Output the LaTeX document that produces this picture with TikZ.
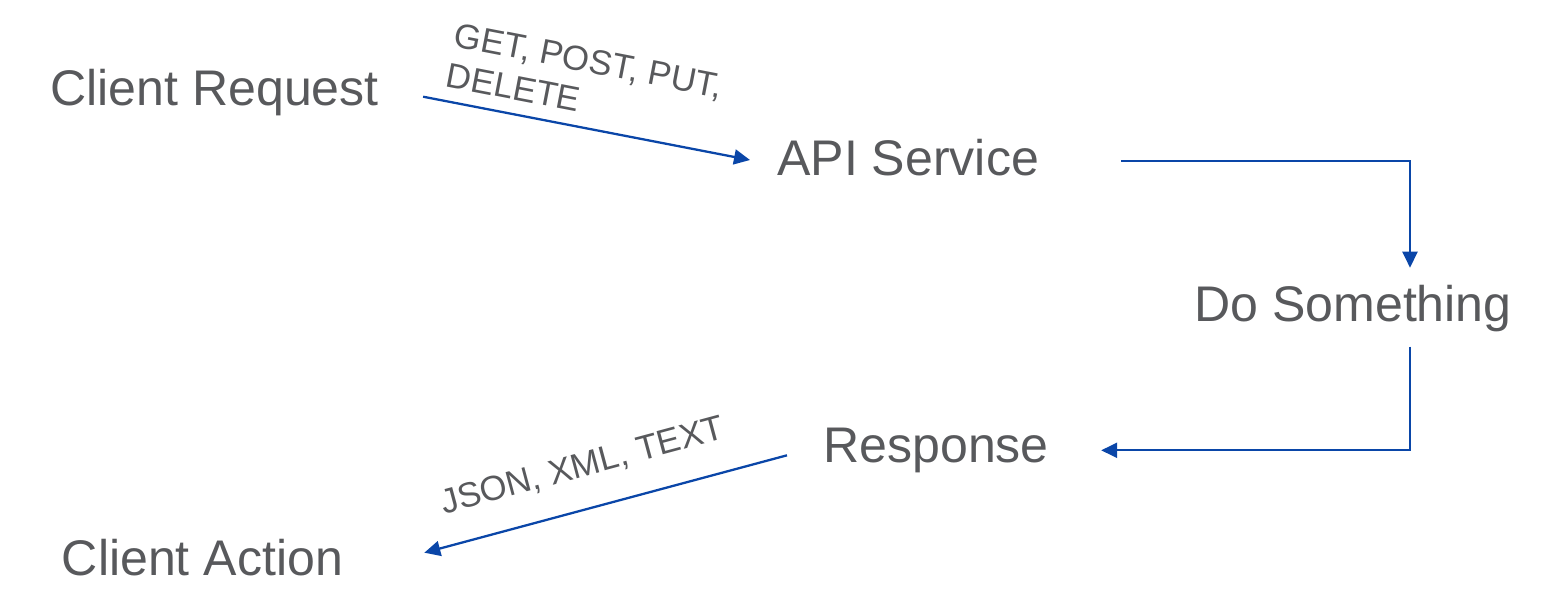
\documentclass[tikz,border=0pt]{standalone}
\usepackage{fontspec}
\setmainfont{Liberation Sans}
\usetikzlibrary{arrows.meta}

\definecolor{textgray}{RGB}{88,89,92}
\definecolor{flowblue}{RGB}{10,70,168}

\tikzset{
  stage/.style={inner sep=0pt, anchor=base west, text=textgray,
    font=\fontsize{28.5pt}{34pt}\selectfont},
  payload/.style={inner sep=0pt, sloped, anchor=south west, align=left, text=textgray,
    font=\fontsize{19.8pt}{23.3pt}\selectfont},
  flow/.style={color=flowblue, line width=1.3pt},
  elbow/.style={to path={-| (\tikztotarget)}}
}

\begin{document}
\begin{tikzpicture}[x=0.02cm,y=-0.02cm,>={Triangle[length=0.32cm,width=0.3cm]}]
  \useasboundingbox (0,0) rectangle (1546,610);

  \node[stage] (request)  at (50,105.7)   {Client Request};
  \node[stage] (service)  at (777,175)    {API Service};
  \node[stage] (work)     at (1194,321.7) {Do Something};
  \node[stage] (response) at (823,462.3)  {Response};
  \node[stage] (action)   at (61.5,575.7) {Client Action};

  \path[->, flow]
  ([shift={(44,-9)}]request.base east) edge
    node[payload, pos=0.055, yshift=0.26cm] {GET, POST, PUT,\\DELETE}
    ([shift={(-27,-15)}]service.base west)
  ([shift={(82,-14)}]service.base east) edge[elbow] ([shift={(216,-54)}]work.base west)
  ([shift={(216,25)}]work.base west) edge[to path={|- (\tikztotarget)}] ([shift={(52,-12)}]response.base east)
  ([shift={(-36,-7)}]response.base west) edge
    node[payload, pos=0.925, yshift=0.53cm] {JSON, XML, TEXT}
    ([shift={(81,-23)}]action.base east)
  ;
\end{tikzpicture}
\end{document}
